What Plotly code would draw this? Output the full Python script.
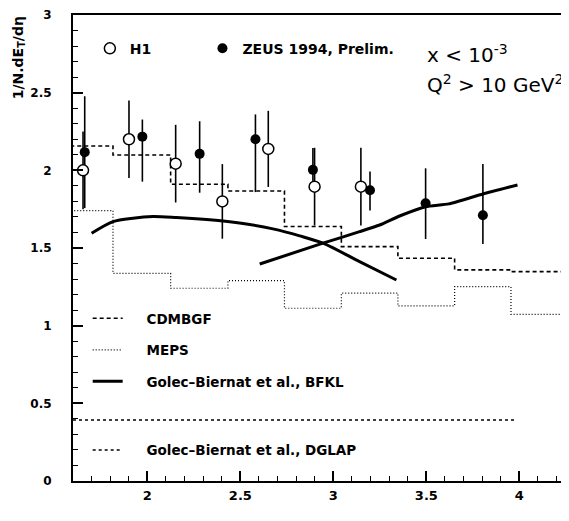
import plotly.graph_objects as go

# ---------------- data ----------------
h1_x = [1.654, 1.901, 2.152, 2.403, 2.650, 2.899, 3.148]
h1_y = [2.000, 2.200, 2.043, 1.800, 2.138, 1.895, 1.895]
h1_err = [0.25, 0.25, 0.25, 0.24, 0.245, 0.25, 0.25]

zeus_x = [1.663, 1.973, 2.281, 2.581, 2.890, 3.197, 3.496, 3.804]
zeus_y = [2.117, 2.217, 2.106, 2.200, 2.003, 1.872, 1.788, 1.711]
zeus_err_up = [0.36, 0.11, 0.21, 0.16, 0.14, 0.12, 0.225, 0.33]
zeus_err_dn = [0.36, 0.29, 0.25, 0.34, 0.14, 0.13, 0.23, 0.185]

bin_edges = [1.51, 1.815, 2.125, 2.433, 2.737, 3.043, 3.347, 3.652, 3.955, 4.26]
cdmbgf = [2.157, 2.099, 1.910, 1.867, 1.638, 1.509, 1.434, 1.359, 1.348]
meps = [1.741, 1.337, 1.241, 1.290, 1.112, 1.209, 1.127, 1.251, 1.073]

bfkl1_x = [1.700, 1.815, 1.923, 2.030, 2.156, 2.281, 2.407, 2.532, 2.675, 2.819, 2.944, 3.141, 3.339]
bfkl1_y = [1.595, 1.670, 1.692, 1.702, 1.696, 1.687, 1.674, 1.655, 1.623, 1.578, 1.531, 1.412, 1.294]
bfkl2_x = [2.604, 2.944, 3.141, 3.249, 3.356, 3.496, 3.620, 3.804, 3.990]
bfkl2_y = [1.397, 1.531, 1.605, 1.648, 1.706, 1.766, 1.784, 1.848, 1.906]

dglap_x = [1.60, 3.98]
dglap_y = [0.393, 0.393]

x_range = [1.6, 4.267]
y_range = [0, 3]

FONT = "DejaVu Sans"
NB = "\u00a0"

def steps(vals):
    return vals + [vals[-1]]

fig = go.Figure()

fig.add_trace(go.Scatter(x=bin_edges, y=steps(cdmbgf), mode="lines", line_shape="hv",
                         line=dict(color="black", width=1.6, dash="4px,3px"),
                         name=NB * 4 + "CDMBGF", legend="legend3", legendgroup="a"))
fig.add_trace(go.Scatter(x=bin_edges, y=steps(meps), mode="lines", line_shape="hv",
                         line=dict(color="black", width=1.2, dash="1px,2px"),
                         name=NB * 4 + "MEPS", legend="legend3", legendgroup="b"))
fig.add_trace(go.Scatter(x=bfkl1_x, y=bfkl1_y, mode="lines",
                         line=dict(color="black", width=3, shape="spline", smoothing=0.8),
                         name=NB * 4 + "Golec–Biernat et al., BFKL", legend="legend3", legendgroup="c"))
fig.add_trace(go.Scatter(x=bfkl2_x, y=bfkl2_y, mode="lines",
                         line=dict(color="black", width=3, shape="spline", smoothing=0.5),
                         showlegend=False))
fig.add_trace(go.Scatter(x=dglap_x, y=dglap_y, mode="lines",
                         line=dict(color="black", width=1.6, dash="3px,3px"),
                         name=NB * 4 + "Golec–Biernat et al., DGLAP", legend="legend4"))

fig.add_trace(go.Scatter(x=zeus_x, y=zeus_y, mode="markers",
                         marker=dict(symbol="circle", size=10, color="black"),
                         error_y=dict(type="data", array=zeus_err_up, arrayminus=zeus_err_dn,
                                      symmetric=False, color="black", thickness=1.6, width=0),
                         name="ZEUS 1994, Prelim.", legend="legend2"))
fig.add_trace(go.Scatter(x=h1_x, y=h1_y, mode="markers",
                         marker=dict(symbol="circle", size=11, color="white",
                                     line=dict(color="black", width=1.5)),
                         error_y=dict(type="data", array=h1_err, color="black", thickness=1.6, width=0),
                         name="H1", legend="legend"))

axis_common = dict(showgrid=False, zeroline=False, showline=True, linecolor="black", linewidth=2,
                   ticks="inside", ticklen=10, tickwidth=1.5, tickcolor="black",
                   minor=dict(ticks="inside", ticklen=5, tickwidth=1, tickcolor="black", dtick=0.1),
                   dtick=0.5, tick0=0)

# page body keeps an 8px default margin, so the figure is sized to fit the window
fig.update_layout(
    width=561, height=513,
    margin=dict(l=65, r=0, t=7, b=40),
    paper_bgcolor="white", plot_bgcolor="white",
    font=dict(family=FONT, color="black"),
    xaxis=dict(range=x_range, mirror=True, ticklabelstandoff=1,
               tickfont=dict(family=FONT, size=13, weight="bold"), **axis_common),
    yaxis=dict(range=y_range, ticklabelstandoff=17,
               tickfont=dict(family=FONT, size=12, weight="bold"), **axis_common),
    legend=dict(x=0.034, y=0.962, xanchor="left", yanchor="top", bgcolor="rgba(0,0,0,0)",
                font=dict(family=FONT, size=14, weight="bold")),
    legend2=dict(x=0.261, y=0.962, xanchor="left", yanchor="top", bgcolor="rgba(0,0,0,0)",
                 font=dict(family=FONT, size=14, weight="bold")),
    legend3=dict(x=0.0296, y=0.382, xanchor="left", yanchor="top", bgcolor="rgba(0,0,0,0)",
                 traceorder="grouped", tracegroupgap=11,
                 font=dict(family=FONT, size=13.5, weight="bold")),
    legend4=dict(x=0.0296, y=0.0993, xanchor="left", yanchor="top", bgcolor="rgba(0,0,0,0)",
                 font=dict(family=FONT, size=13.5, weight="bold")),
    showlegend=True,
)

fig.add_annotation(text="1/N.dE<sub>T</sub>/dη", textangle=-90, xref="paper", yref="paper",
                   x=-0.109, y=0.909, xanchor="center", yanchor="middle", showarrow=False,
                   font=dict(family=FONT, size=14, weight="bold"))
fig.add_annotation(text="x &lt; 10<sup>-3</sup>", xref="paper", yref="paper",
                   x=0.709, y=0.9155, xanchor="left", yanchor="middle", showarrow=False,
                   font=dict(family=FONT, size=20))
fig.add_annotation(text="Q<sup>2</sup> &gt; 10 GeV<sup>2</sup>", xref="paper", yref="paper",
                   x=0.709, y=0.8515, xanchor="left", yanchor="middle", showarrow=False,
                   font=dict(family=FONT, size=20))
fig.add_annotation(text="η", xref="paper", yref="paper", x=0.99, y=-0.066,
                   xanchor="left", yanchor="middle", showarrow=False,
                   font=dict(family=FONT, size=10, weight="bold"))

fig.write_html("out.html")
